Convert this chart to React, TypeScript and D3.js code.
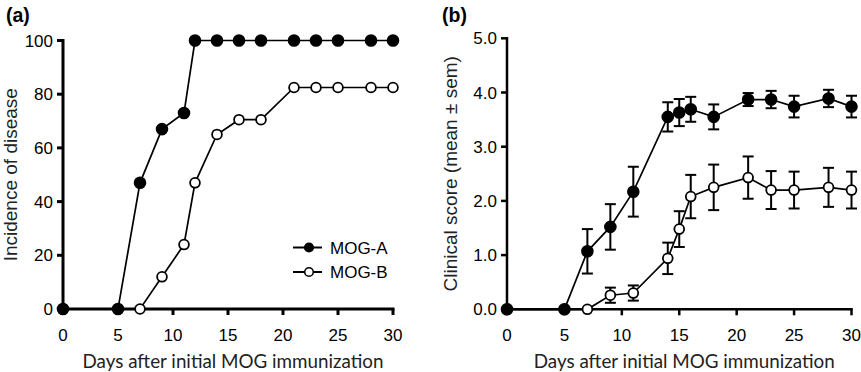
import * as d3 from "d3";
import React from "react";

// panel (a): incidence of disease (%)
const daysA = [0, 5, 7, 9, 11, 12, 14, 16, 18, 21, 23, 25, 28, 30];
const incidenceMogA = [0, 0, 47, 67, 73, 100, 100, 100, 100, 100, 100, 100, 100, 100];
const incidenceMogB = [0, 0, 0, 12, 24, 47, 65, 70.5, 70.5, 82.5, 82.5, 82.5, 82.5, 82.5];
const incidenceTicks = [0, 20, 40, 60, 80, 100];

// panel (b): clinical score (mean ± sem)
const daysB = [0, 5, 7, 9, 11, 14, 15, 16, 18, 21, 23, 25, 28, 30];
const scoreMogA = [0, 0, 1.07, 1.52, 2.17, 3.55, 3.63, 3.69, 3.55, 3.87, 3.87, 3.74, 3.89, 3.74];
const semMogA = [0, 0, 0.41, 0.42, 0.46, 0.27, 0.25, 0.23, 0.23, 0.12, 0.16, 0.2, 0.16, 0.2];
const scoreMogB = [0, 0, 0, 0.26, 0.3, 0.94, 1.48, 2.08, 2.25, 2.43, 2.2, 2.2, 2.25, 2.2];
const semMogB = [0, 0, 0, 0.14, 0.14, 0.29, 0.33, 0.4, 0.42, 0.39, 0.35, 0.34, 0.36, 0.34];
const scoreTicks = [0, 1, 2, 3, 4, 5];

const dayTicks = [0, 5, 10, 15, 20, 25, 30];
const seriesNames = ["MOG-A", "MOG-B"];
const xTitle = "Days after initial MOG immunization";

const FONT = "Arial, 'Liberation Sans', sans-serif";
const TITLE_FONT = "Lato, 'Open Sans', sans-serif";

interface Pt {
  x: number;
  y: number;
  e?: number;
}

function zip(xs: number[], ys: number[], es?: number[]): Pt[] {
  return xs.map((x, i) => ({ x, y: ys[i], e: es ? es[i] : undefined }));
}

function Panel({
  left,
  right,
  top,
  bottom,
  yMax,
  yTicks,
  yFormat,
  series,
  label,
  labelX,
  yTitle,
  yTitleX,
  axisWidth,
  legend,
}: {
  left: number;
  right: number;
  top: number;
  bottom: number;
  yMax: number;
  yTicks: number[];
  yFormat: (v: number) => string;
  series: Pt[][];
  label: string;
  labelX: number;
  yTitle: string;
  yTitleX: number;
  axisWidth: number;
  legend?: { x: number; y: number };
}) {
  const x = d3.scaleLinear([0, 30], [left, right]);
  const y = d3.scaleLinear([0, yMax], [bottom, top]);
  const line = d3
    .line<Pt>()
    .x((d) => x(d.x))
    .y((d) => y(d.y));
  const cap = 5.5;
  // draw MOG-B first so MOG-A sits on top where they overlap
  const order = [1, 0];

  return (
    <g>
      <text x={labelX} y={22} fontFamily={FONT} fontWeight="bold" fontSize={19.5}>
        {label}
      </text>
      {/* y-axis */}
      <g fontFamily={FONT} fontSize={17} textAnchor="end">
        <line x1={left} x2={left} y1={y(0)} y2={y(yMax) - axisWidth / 2} stroke="#000" strokeWidth={axisWidth} />
        {yTicks.map((t) => (
          <g key={t} transform={`translate(0,${y(t)})`}>
            <line x1={left - 6} x2={left} stroke="#000" strokeWidth={axisWidth} />
            <text x={left - 10} dy="0.36em">
              {yFormat(t)}
            </text>
          </g>
        ))}
      </g>
      <text
        transform={`translate(${yTitleX},${(top + bottom) / 2}) rotate(-90)`}
        textAnchor="middle"
        fontFamily={FONT}
        fontSize={19}
        fill="#222"
      >
        {yTitle}
      </text>
      {/* x-axis */}
      <g fontFamily={FONT} fontSize={17} textAnchor="middle">
        <line x1={left - axisWidth / 2} x2={right + axisWidth / 2} y1={y(0)} y2={y(0)} stroke="#000" strokeWidth={axisWidth} />
        {dayTicks.map((t) => (
          <g key={t} transform={`translate(${x(t)},${y(0)})`}>
            <line y2={6} stroke="#000" strokeWidth={axisWidth} />
            <text y={31.5}>{t}</text>
          </g>
        ))}
      </g>
      <text
        x={(left + right) / 2 + 5}
        y={367.5}
        textAnchor="middle"
        fontFamily={TITLE_FONT}
        fontSize={18.5}
        textLength={301}
        lengthAdjust="spacingAndGlyphs"
        fill="#222"
      >
        {xTitle}
      </text>
      {/* series */}
      {order.map((i) => {
        const data = series[i];
        const filled = i === 0;
        return (
          <g key={i}>
            {data
              .filter((d) => d.e && d.e > 0)
              .map((d) => (
                <g key={`e${d.x}`} stroke="#000" strokeWidth={2}>
                  <line x1={x(d.x)} x2={x(d.x)} y1={y(d.y - (d.e ?? 0))} y2={y(d.y + (d.e ?? 0))} />
                  <line x1={x(d.x) - cap} x2={x(d.x) + cap} y1={y(d.y + (d.e ?? 0))} y2={y(d.y + (d.e ?? 0))} />
                  <line x1={x(d.x) - cap} x2={x(d.x) + cap} y1={y(d.y - (d.e ?? 0))} y2={y(d.y - (d.e ?? 0))} />
                </g>
              ))}
            <path d={line(data) ?? ""} fill="none" stroke="#000" strokeWidth={1.7} />
            {data.map((d) => (
              <circle
                key={d.x}
                cx={x(d.x)}
                cy={y(d.y)}
                r={filled ? 5.4 : 4.9}
                fill={filled ? "#000" : "#fff"}
                stroke="#000"
                strokeWidth={1.8}
              />
            ))}
          </g>
        );
      })}
      {legend &&
        seriesNames.map((name, i) => (
          <g key={name} transform={`translate(${legend.x},${legend.y + i * 24.5})`}>
            <line x1={0} x2={29} stroke="#000" strokeWidth={2} />
            <circle cx={16} r={4.3} fill={i === 0 ? "#000" : "#fff"} stroke="#000" strokeWidth={1.6} />
            <text x={37} dy="0.36em" fontFamily={FONT} fontSize={17}>
              {name}
            </text>
          </g>
        ))}
    </g>
  );
}

export default function App() {
  const width = 861;
  const height = 372;
  return (
    <svg
      width={width}
      height={height}
      style={{ position: "absolute", left: 0, top: 0, background: "#fff" }}
    >
      <rect width={width} height={height} fill="#fff" />
      <Panel
        left={63}
        right={393}
        top={40.5}
        bottom={309}
        yMax={100}
        yTicks={incidenceTicks}
        yFormat={(v) => String(v)}
        series={[zip(daysA, incidenceMogA), zip(daysA, incidenceMogB)]}
        label="(a)"
        labelX={6}
        yTitle="Incidence of disease"
        yTitleX={17}
        axisWidth={3}
        legend={{ x: 293, y: 247.5 }}
      />
      <Panel
        left={507}
        right={851.5}
        top={38.3}
        bottom={309.3}
        yMax={5}
        yTicks={scoreTicks}
        yFormat={(v) => v.toFixed(1)}
        series={[zip(daysB, scoreMogA, semMogA), zip(daysB, scoreMogB, semMogB)]}
        label="(b)"
        labelX={442}
        yTitle="Clinical score (mean ± sem)"
        yTitleX={457}
        axisWidth={2.5}
      />
    </svg>
  );
}
